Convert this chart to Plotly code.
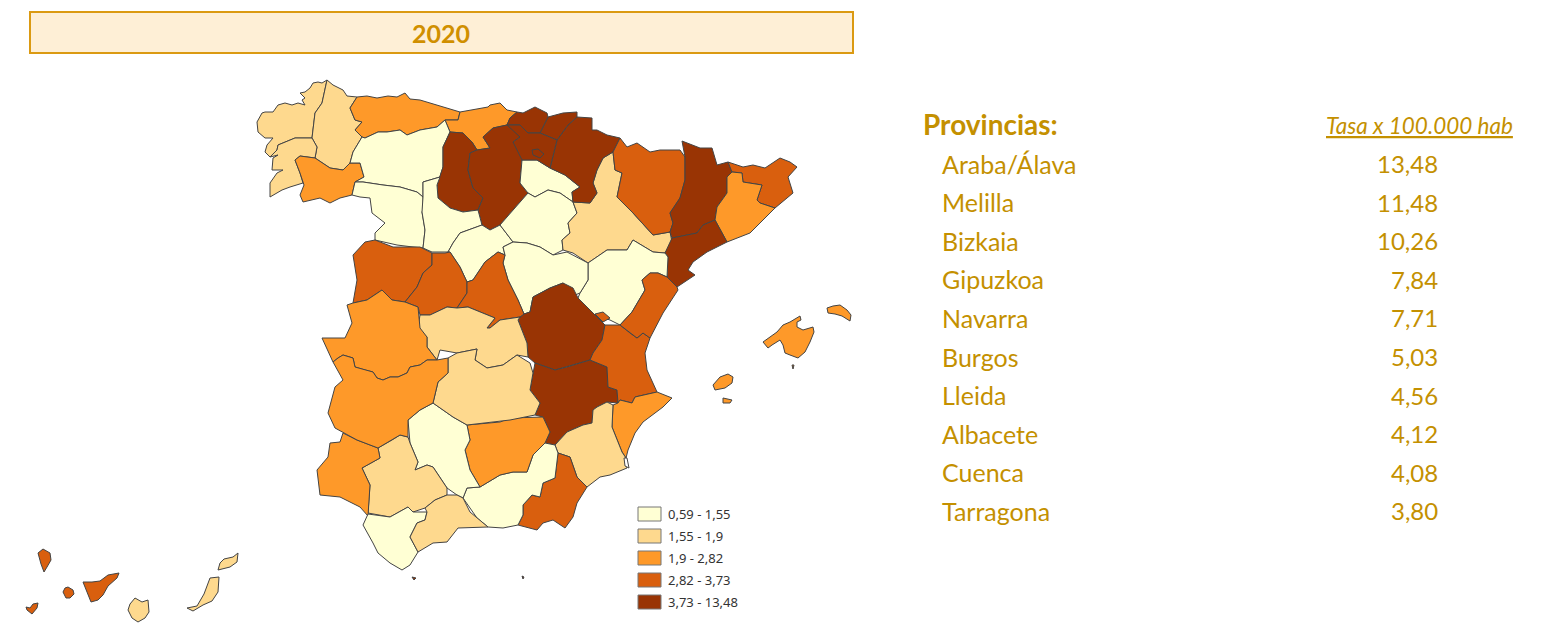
import plotly.graph_objects as go

TITLE = "2020"
TABLE_HEAD = "Provincias:"
RATE_HEAD = "Tasa x 100.000 hab"
TOP_PROVINCES = ["Araba/Álava", "Melilla", "Bizkaia", "Gipuzkoa", "Navarra", "Burgos", "Lleida", "Albacete", "Cuenca", "Tarragona"]
TOP_RATES = [13.48, 11.48, 10.26, 7.84, 7.71, 5.03, 4.56, 4.12, 4.08, 3.80]
CLASS_LABELS = ["0,59 - 1,55", "1,55 - 1,9", "1,9 - 2,82", "2,82 - 3,73", "3,73 - 13,48"]
CLASS_COLORS = ["#FFFFD4", "#FED98E", "#FE9929", "#D95F0E", "#993404"]

# Province outlines in map units
CORUNA = [(327,80),(322,83),(318,82),(313,83),(310,88),(305,92),(300,93),(305,98),(302,100),(305,105),(298,103),(292,105),(285,103),(278,105),(273,112),(265,112),(262,113),(257,122),(258,132),(265,138),(273,138),(267,145),(265,152),(270,157),(277,150),(278,145),(295,138),(312,138),(315,113),(322,103)]
LUGO = [(327,80),(333,85),(343,90),(347,96),(357,97),(350,108),(355,120),(362,122),(355,130),(362,137),(353,152),(350,163),(343,170),(330,168),(315,158),(317,147),(312,138),(315,113),(322,103)]
PONTEVEDRA = [(270,197),(270,183),(277,173),(283,170),(272,170),(273,158),(278,155),(270,157),(277,150),(278,145),(295,138),(312,138),(317,147),(315,158),(300,156),(295,160),(300,173),(303,183),(290,187),(282,190)]
OURENSE = [(295,160),(300,156),(315,158),(330,168),(343,170),(350,163),(360,163),(364,177),(355,182),(352,195),(340,198),(330,203),(320,198),(303,202),(300,195),(304,185),(300,173)]
ASTURIAS = [(350,108),(357,97),(367,96),(377,98),(388,96),(397,97),(405,93),(410,99),(420,100),(430,103),(445,107),(460,112),(458,120),(445,120),(437,127),(420,130),(407,135),(400,130),(387,132),(378,132),(365,138),(362,137),(355,130),(362,122),(355,120)]
CANTABRIA = [(460,112),(477,109),(488,107),(490,105),(500,103),(507,110),(517,112),(510,118),(507,125),(493,128),(483,137),(490,148),(477,150),(472,142),(463,133),(450,132),(445,120),(458,120)]
LEON = [(365,138),(378,132),(387,132),(400,130),(407,135),(420,130),(437,127),(445,120),(450,132),(443,147),(443,167),(440,177),(423,182),(423,197),(417,192),(400,187),(383,185),(363,182),(355,182),(364,177),(360,163),(350,163),(353,152),(362,137)]
PALENCIA = [(450,132),(463,133),(472,142),(477,150),(470,153),(468,170),(473,188),(483,198),(478,210),(463,212),(450,208),(438,198),(437,185),(443,167),(443,147)]
BURGOS = [(470,153),(477,150),(490,148),(483,137),(493,128),(507,125),(518,125),(520,137),(513,142),(520,150),(533,160),(522,160),(520,183),(528,193),(513,210),(500,225),(490,230),(482,225),(478,210),(483,198),(473,188),(468,170)]
ZAMORA = [(355,182),(363,182),(383,185),(400,187),(417,192),(423,197),(423,210),(422,212),(425,230),(423,248),(413,247),(397,245),(375,240),(375,233),(385,223),(372,213),(370,198),(360,197),(352,195)]
VALLADOLID = [(423,182),(440,177),(437,185),(438,198),(450,208),(463,212),(478,210),(482,225),(460,233),(453,243),(448,252),(432,252),(423,248),(425,230),(422,212),(423,197)]
SEGOVIA = [(482,225),(490,230),(500,225),(513,242),(503,247),(505,255),(498,252),(485,262),(473,280),(467,282),(460,267),(450,252),(448,252),(453,243),(460,233)]
RIOJA = [(522,160),(537,160),(550,168),(565,175),(580,187),(572,192),(573,202),(560,193),(548,190),(535,197),(528,193),(520,183)]
SORIA = [(528,193),(535,197),(548,190),(560,193),(573,202),(577,213),(568,223),(570,233),(562,240),(563,250),(553,255),(540,247),(527,243),(513,242),(500,225),(513,210)]
ZARAGOZA = [(613,152),(615,170),(622,173),(617,197),(633,213),(653,235),(670,232),(672,242),(665,253),(653,252),(633,240),(627,250),(607,250),(588,263),(573,253),(563,250),(562,240),(570,233),(568,223),(577,213),(573,202),(590,203),(597,193),(593,183),(597,170),(603,158)]
NAVARRA = [(620,138),(613,152),(603,158),(597,170),(593,183),(597,193),(590,203),(573,202),(572,192),(580,187),(565,175),(550,168),(557,140),(568,125),(577,117),(592,118),(592,130),(597,130),(607,135)]
GIPUZKOA = [(577,112),(563,113),(548,117),(540,133),(557,140),(568,125),(577,117)]
BIZKAIA = [(517,112),(523,113),(535,107),(547,113),(548,117),(540,133),(528,133),(520,125),(507,125),(510,118)]
ALAVA = [(507,125),(520,125),(528,133),(540,133),(557,140),(550,168),(537,160),(522,160),(513,142),(520,137)]
TREVINO = [(532,150),(538,149),(544,154),(540,158),(533,155)]
HUESCA = [(620,138),(627,147),(637,143),(650,152),(660,150),(680,150),(685,157),(685,180),(680,198),(670,213),(673,223),(670,232),(653,235),(633,213),(617,197),(622,173),(615,170),(613,152)]
LLEIDA = [(682,141),(700,148),(712,148),(717,165),(728,162),(732,172),(727,177),(727,193),(717,207),(715,220),(703,225),(697,233),(672,238),(670,232),(673,223),(670,213),(680,198),(685,180),(685,157)]
GIRONA = [(728,162),(738,165),(743,167),(753,165),(765,168),(780,158),(790,162),(797,167),(788,177),(793,193),(775,208),(760,203),(757,200),(762,185),(743,182),(742,173),(732,172)]
BARCELONA = [(727,177),(732,172),(742,173),(743,182),(762,185),(757,200),(760,203),(775,208),(750,233),(727,242),(715,220),(717,207),(727,193)]
TARRAGONA = [(715,220),(727,242),(707,252),(693,262),(688,270),(695,275),(683,283),(677,287),(667,277),(668,257),(665,253),(672,238),(697,233),(703,225)]
TERUEL = [(588,263),(607,250),(627,250),(633,240),(653,252),(665,253),(668,257),(667,277),(658,273),(650,273),(642,280),(645,290),(632,312),(620,325),(610,320),(595,315),(578,298),(580,293),(588,280)]
GUADALAJARA = [(503,247),(513,242),(527,243),(540,247),(553,255),(567,252),(588,263),(588,280),(580,293),(575,295),(563,283),(550,288),(533,297),(530,312),(524,314),(518,300),(508,280),(503,263),(505,255)]
CUENCA = [(530,312),(533,297),(550,288),(563,283),(573,288),(578,298),(595,315),(605,325),(602,340),(593,353),(590,360),(567,367),(555,370),(535,363),(528,357),(527,343),(518,320),(520,317),(524,314)]
ALBACETE = [(535,363),(555,370),(567,367),(590,360),(607,367),(608,387),(617,390),(618,403),(607,402),(597,407),(593,410),(592,423),(583,425),(567,432),(555,445),(545,443),(550,432),(543,417),(535,415),(540,403),(530,390),(533,373)]
VALENCIA = [(593,353),(602,340),(605,325),(620,325),(630,333),(637,338),(643,333),(650,338),(645,353),(647,370),(657,392),(635,397),(632,403),(620,400),(618,403),(617,390),(608,387),(607,367),(590,360)]
ADEMUZ = [(595,314),(603,312),(610,318),(603,322)]
CASTELLON = [(678,290),(663,313),(650,338),(643,333),(637,338),(630,333),(620,325),(632,312),(645,290),(642,280),(650,273),(658,273),(667,277),(677,287)]
ALICANTE = [(618,403),(620,400),(632,403),(635,397),(657,392),(672,398),(663,407),(643,422),(635,433),(628,450),(626,458),(622,452),(612,427),(613,405)]
MURCIA = [(593,410),(597,407),(607,402),(613,405),(612,427),(622,452),(626,458),(627,468),(610,475),(600,477),(587,487),(577,477),(570,457),(558,453),(555,445),(567,432),(583,425),(592,423)]
ALMERIA = [(558,453),(570,457),(577,477),(587,487),(577,503),(573,517),(565,528),(553,520),(543,523),(537,530),(518,525),(523,515),(523,505),(532,495),(540,497),(543,483),(555,478)]
GRANADA = [(558,453),(555,478),(543,483),(540,497),(532,495),(523,505),(523,515),(518,525),(503,528),(488,527),(477,518),(463,498),(467,488),(480,487),(500,475),(513,472),(527,472),(533,455),(545,443),(555,445)]
JAEN = [(467,425),(500,422),(510,418),(543,417),(550,432),(545,443),(533,455),(527,472),(513,472),(500,475),(480,487),(470,470),(465,450),(470,440)]
CORDOBA = [(433,403),(453,417),(467,425),(470,440),(465,450),(470,470),(480,487),(467,488),(463,498),(457,495),(447,488),(433,467),(427,465),(415,470),(418,462),(410,443),(408,420),(420,410)]
SEVILLA = [(408,437),(410,443),(418,462),(415,470),(427,465),(433,467),(447,488),(447,495),(435,500),(425,508),(413,512),(408,507),(390,517),(368,513),(370,485),(362,468),(380,458),(378,448),(392,440),(400,435)]
HUELVA = [(343,433),(357,440),(378,448),(380,458),(362,468),(370,485),(368,516),(360,507),(340,497),(320,495),(317,470),(328,457),(330,443),(340,442)]
CADIZ = [(368,514),(390,517),(408,507),(413,512),(427,512),(425,520),(417,523),(410,537),(418,552),(410,565),(402,570),(390,563),(378,553),(373,543),(363,525)]
MALAGA = [(425,508),(435,500),(447,495),(457,495),(463,498),(470,512),(488,527),(458,528),(447,542),(433,543),(418,552),(410,537),(417,523),(425,520),(427,512)]
SALAMANCA = [(353,255),(365,242),(375,240),(393,247),(420,247),(432,253),(432,265),(423,273),(417,287),(405,302),(392,300),(382,290),(367,300),(353,303),(357,280)]
AVILA = [(432,253),(445,253),(450,252),(460,267),(467,282),(467,293),(457,308),(447,307),(430,315),(420,315),(418,307),(405,302),(417,287),(423,273),(432,265)]
MADRID = [(467,282),(473,280),(485,262),(498,252),(505,255),(503,263),(508,280),(518,300),(524,314),(520,317),(500,320),(490,328),(487,328),(495,318),(468,307),(457,308),(467,293)]
TOLEDO = [(420,315),(430,315),(447,307),(457,308),(468,307),(495,318),(487,328),(490,328),(500,320),(520,317),(518,320),(527,343),(528,357),(517,355),(503,365),(487,368),(475,360),(477,349),(457,353),(440,350),(437,360),(427,347),(427,337),(418,328)]
CIUDAD_REAL = [(448,358),(457,353),(477,349),(475,360),(487,368),(503,365),(517,355),(530,363),(533,373),(530,390),(540,403),(535,415),(510,420),(467,425),(453,417),(433,403),(438,382),(448,373)]
CACERES = [(347,305),(353,303),(367,300),(382,290),(392,300),(405,302),(418,307),(420,328),(427,337),(427,347),(437,360),(427,360),(420,365),(410,367),(407,373),(398,377),(390,377),(383,380),(377,378),(373,372),(365,370),(355,367),(353,358),(343,355),(338,358),(333,362),(322,338),(345,338),(352,323)]
BADAJOZ = [(333,362),(338,358),(343,355),(353,358),(355,367),(365,370),(373,372),(377,378),(383,380),(390,377),(398,377),(407,373),(410,367),(420,365),(427,360),(437,360),(448,358),(448,373),(438,382),(433,403),(420,410),(408,420),(408,437),(400,435),(392,440),(378,448),(357,440),(343,432),(335,428),(328,413),(335,387),(343,380),(337,370)]
LA_PALMA = [(38,553),(43,549),(50,553),(51,560),(47,567),(44,572),(41,564)]
EL_HIERRO = [(26,607),(30,608),(33,604),(38,603),(37,608),(32,614),(27,610)]
LA_GOMERA = [(63,592),(65,588),(68,587),(73,590),(74,594),(70,598),(66,598)]
TENERIFE = [(83,582),(92,582),(100,581),(108,575),(119,573),(117,578),(108,586),(103,595),(98,600),(91,602),(87,592)]
GRAN_CANARIA = [(128,610),(130,604),(135,598),(142,602),(148,600),(149,612),(145,618),(138,622),(132,618)]
FUERTEVENTURA = [(187,608),(197,606),(204,594),(210,578),(219,577),(218,592),(212,601),(203,605),(193,611)]
LANZAROTE = [(218,570),(220,563),(224,559),(233,557),(238,553),(237,562),(230,567)]
MALLORCA = [(763,342),(770,337),(777,332),(783,325),(790,322),(800,316),(801,320),(797,322),(797,327),(803,330),(813,327),(814,332),(810,342),(805,352),(798,358),(790,355),(785,353),(783,345),(780,340),(772,345),(768,348)]
MENORCA = [(827,308),(833,306),(840,305),(847,310),(851,315),(850,321),(842,316),(835,314),(828,313)]
IBIZA = [(713,385),(717,380),(720,377),(728,374),(733,377),(732,383),(725,388),(715,390)]
FORMENTERA = [(723,398),(732,400),(730,403),(723,403)]
CABRERA = [(792,365),(794,365),(793,369)]
CEUTA = [(412,577),(416,578),(414,580)]
MELILLA = [(522,576),(524,577),(523,579)]
MAR_MENOR = [(624,458),(627,458),(629,468),(625,466)]

REGIONS = [
    ("A Coruña", CORUNA, 1), ("Lugo", LUGO, 1), ("Pontevedra", PONTEVEDRA, 1), ("Ourense", OURENSE, 2),
    ("Asturias", ASTURIAS, 2), ("Cantabria", CANTABRIA, 2), ("León", LEON, 0), ("Palencia", PALENCIA, 4),
    ("Burgos", BURGOS, 4), ("Zamora", ZAMORA, 0), ("Valladolid", VALLADOLID, 0), ("Segovia", SEGOVIA, 0),
    ("La Rioja", RIOJA, 0), ("Soria", SORIA, 0), ("Zaragoza", ZARAGOZA, 1), ("Navarra", NAVARRA, 4),
    ("Gipuzkoa", GIPUZKOA, 4), ("Bizkaia", BIZKAIA, 4), ("Araba/Álava", ALAVA, 4), ("Burgos", TREVINO, 4), ("Huesca", HUESCA, 3),
    ("Lleida", LLEIDA, 4), ("Girona", GIRONA, 3), ("Barcelona", BARCELONA, 2), ("Tarragona", TARRAGONA, 4),
    ("Teruel", TERUEL, 0), ("Guadalajara", GUADALAJARA, 0), ("Cuenca", CUENCA, 4), ("Albacete", ALBACETE, 4),
    ("Valencia", VALENCIA, 3), ("Valencia", ADEMUZ, 3), ("Castellón", CASTELLON, 3), ("Alicante", ALICANTE, 2),
    ("Murcia", MURCIA, 1), ("Almería", ALMERIA, 3), ("Granada", GRANADA, 0), ("Jaén", JAEN, 2),
    ("Córdoba", CORDOBA, 0), ("Sevilla", SEVILLA, 1), ("Huelva", HUELVA, 2), ("Cádiz", CADIZ, 0),
    ("Málaga", MALAGA, 1), ("Salamanca", SALAMANCA, 3), ("Ávila", AVILA, 3), ("Madrid", MADRID, 3),
    ("Toledo", TOLEDO, 1), ("Ciudad Real", CIUDAD_REAL, 1), ("Cáceres", CACERES, 2), ("Badajoz", BADAJOZ, 2),
    ("La Palma", LA_PALMA, 3), ("El Hierro", EL_HIERRO, 3), ("La Gomera", LA_GOMERA, 3), ("Tenerife", TENERIFE, 3),
    ("Gran Canaria", GRAN_CANARIA, 1), ("Fuerteventura", FUERTEVENTURA, 1), ("Lanzarote", LANZAROTE, 1),
    ("Mallorca", MALLORCA, 2), ("Menorca", MENORCA, 2), ("Ibiza", IBIZA, 2), ("Formentera", FORMENTERA, 2),
    ("Cabrera", CABRERA, 2), ("Ceuta", CEUTA, 4), ("Melilla", MELILLA, 4),
]

OUTLINE = "#444444"
GOLD = "#C49000"
FONT = "Lato"
PAGE_MARGIN = 8  # the page keeps its default body margin

fig = go.Figure()
for name, pts, cls in REGIONS:
    xs = [p[0] for p in pts] + [pts[0][0]]
    ys = [p[1] for p in pts] + [pts[0][1]]
    fig.add_trace(go.Scatter(x=xs, y=ys, mode="lines", fill="toself", fillcolor=CLASS_COLORS[cls],
                             line=dict(color=OUTLINE, width=1), name=name, hoverinfo="name", showlegend=False))
fig.add_trace(go.Scatter(x=[p[0] for p in MAR_MENOR] + [MAR_MENOR[0][0]], y=[p[1] for p in MAR_MENOR] + [MAR_MENOR[0][1]],
                         mode="lines", fill="toself", fillcolor="white", line=dict(color=OUTLINE, width=1),
                         name="Mar Menor", hoverinfo="name", showlegend=False))

shapes = [dict(type="rect", x0=30, x1=853, y0=12, y1=53, fillcolor="#FEEFD6", line=dict(color="#DB9A12", width=2))]
ann = [dict(x=441, y=32.5, text=f"<b>{TITLE}</b>", font=dict(family=FONT, size=25, color="#D08F00"), xanchor="center", yanchor="middle", showarrow=False)]
ann.append(dict(x=921, y=124, text=f"<b>{TABLE_HEAD}</b>", font=dict(family=FONT, size=28, color=GOLD), xanchor="left", yanchor="middle", showarrow=False))
ann.append(dict(x=1515, y=125, text=f"<i><u>{RATE_HEAD}</u></i>", font=dict(family=FONT, size=22.5, color=GOLD), xanchor="right", yanchor="middle", showarrow=False))
for i, (p, r) in enumerate(zip(TOP_PROVINCES, TOP_RATES)):
    y = 163.5 + i * 38.6
    ann.append(dict(x=940, y=y, text=p, font=dict(family=FONT, size=25, color=GOLD), xanchor="left", yanchor="middle", showarrow=False))
    ann.append(dict(x=1440, y=y, text=f"{r:.2f}".replace(".", ","), font=dict(family=FONT, size=24, color=GOLD), xanchor="right", yanchor="middle", showarrow=False))
for i, (lab, col) in enumerate(zip(CLASS_LABELS, CLASS_COLORS)):
    y = 514 + i * 22
    shapes.append(dict(type="rect", x0=638, x1=661, y0=y - 7, y1=y + 7, fillcolor=col, line=dict(color="#777777", width=1)))
    ann.append(dict(x=666, y=y, text=lab, font=dict(family="Noto Sans", size=13, color="#333333"), xanchor="left", yanchor="middle", showarrow=False))

fig.update_layout(
    width=1556 - 2 * PAGE_MARGIN, height=643 - 2 * PAGE_MARGIN, margin=dict(l=0, r=0, t=0, b=0),
    paper_bgcolor="white", plot_bgcolor="white",
    xaxis=dict(range=[PAGE_MARGIN, 1556 - PAGE_MARGIN], visible=False, fixedrange=True),
    yaxis=dict(range=[643 - PAGE_MARGIN, PAGE_MARGIN], visible=False, fixedrange=True),
    shapes=shapes, annotations=ann, showlegend=False,
)
fig.write_html("out.html", config=dict(displayModeBar=False))
